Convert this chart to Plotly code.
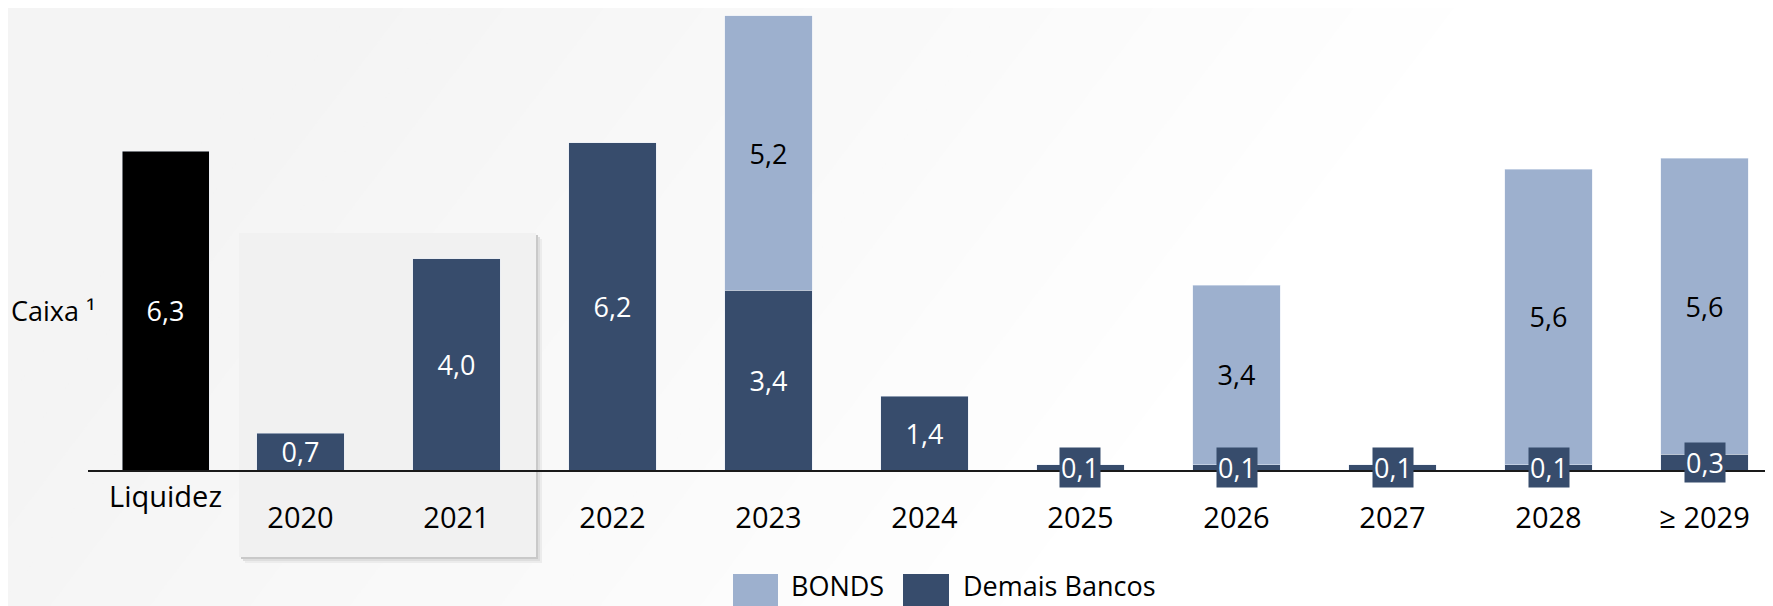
import plotly.graph_objects as go

# dados (bilhões)
categories = ["2020", "2021", "2022", "2023", "2024", "2025", "2026", "2027", "2028", "≥ 2029"]
demais_bancos = [0.7, 4.0, 6.2, 3.4, 1.4, 0.1, 0.1, 0.1, 0.1, 0.3]
bonds = [None, None, None, 5.2, None, None, 3.4, None, 5.6, 5.6]
liquidez_label = "Liquidez"
liquidez = 6.3

DARK = "#374c6c"
LIGHT = "#9db0ce"
FONT = "Open Sans"

W, H = 1773, 606
OFF = 8          # the page body adds an 8px margin
BOTTOM = 470     # baseline, px from top of the page
FW, FH = W - OFF, H - OFF


def px(x):
    return (x - OFF) / FW


def py(y):
    return (BOTTOM - y) / (BOTTOM - OFF)


def fmt(v):
    return f"{v:.1f}".replace(".", ",")


fig = go.Figure()

fig.add_trace(go.Bar(
    x=[liquidez_label], y=[liquidez], xaxis="x2", yaxis="y2",
    marker_color="#000000", width=0.558,
    text=[fmt(liquidez)], textposition="inside", insidetextanchor="middle",
    textfont=dict(color="white", size=27), showlegend=False,
))

fig.add_trace(go.Bar(
    x=categories, y=demais_bancos, name="Demais Bancos",
    marker_color=DARK, width=0.558,
    text=[fmt(v) if v >= 0.5 else "" for v in demais_bancos],
    textposition="inside", insidetextanchor="middle", textangle=0,
    textfont=dict(color="white", size=27), showlegend=False,
))

fig.add_trace(go.Bar(
    x=categories, y=bonds, name="BONDS",
    marker_color=LIGHT, width=0.558,
    text=[fmt(v) if v else "" for v in bonds],
    textposition="inside", insidetextanchor="middle", textangle=0,
    textfont=dict(color="black", size=27), showlegend=False,
))

# small values: labels in a dark box centred on the bar
annotations = []
for i, v in enumerate(demais_bancos):
    if v < 0.5:
        annotations.append(dict(
            x=i, y=v / 2, xref="x", yref="y", text=fmt(v), showarrow=False,
            xanchor="center", yanchor="middle",
            bgcolor=DARK, borderpad=1, font=dict(color="white", size=27, family=FONT),
        ))

annotations.append(dict(
    x=px(97), y=liquidez / 2, xref="paper", yref="y2", xanchor="right", yanchor="middle",
    text="Caixa ¹", showarrow=False, font=dict(color="black", size=27, family=FONT),
))

# background gradient (light grey top-left -> white)
shapes = []
n = 24
for i in range(1, n + 1):
    left = -200 + 1200 * i / n
    c = int(244 + (255 - 244) * i / n)
    shapes.append(dict(
        type="path", xref="paper", yref="paper", layer="below", line_width=0,
        fillcolor=f"rgb({c},{c},{c})",
        path=f"M {px(left)},{py(H)} L {px(3000)},{py(H)} L {px(3000)},{py(0)} L {px(left + 460)},{py(0)} Z",
    ))

# highlighted box behind 2020 / 2021 with shadow
bx0, by0, bx1, by1 = 239, 233, 536, 557
for off, col in [(6, "#ececec"), (4, "#dedede"), (2, "#c9c9c9")]:
    shapes.append(dict(type="rect", xref="paper", yref="paper", layer="below", line_width=0,
                       fillcolor=col, x0=px(bx0 + off), x1=px(bx1 + off), y0=py(by0 + off), y1=py(by1 + off)))
shapes.append(dict(type="rect", xref="paper", yref="paper", layer="below", line_width=0,
                   fillcolor="#f1f1f1", x0=px(bx0), x1=px(bx1), y0=py(by0), y1=py(by1)))

# legend drawn by hand (bigger swatches than plotly's)
for name, col, x0, x1, tx in [("BONDS", LIGHT, 733, 778, 789), ("Demais Bancos", DARK, 903, 949, 961)]:
    shapes.append(dict(type="rect", xref="paper", yref="paper", line_width=0, fillcolor=col,
                       x0=px(x0), x1=px(x1), y0=py(574), y1=py(612)))
    annotations.append(dict(x=px(tx), y=py(585), xref="paper", yref="paper",
                            xanchor="left", yanchor="middle",
                            text=name, showarrow=False, font=dict(color="black", size=27, family=FONT)))

fig.update_layout(
    width=FW, height=FH,
    margin=dict(l=0, r=0, t=0, b=FH - (BOTTOM - OFF), pad=0),
    paper_bgcolor="#f4f4f4", plot_bgcolor="rgba(0,0,0,0)",
    font=dict(family=FONT, color="black"),
    barmode="stack", showlegend=False,
    uniformtext=dict(minsize=27, mode="show"),
    shapes=shapes, annotations=annotations,
    xaxis=dict(type="category", domain=[px(222), 1], range=[-0.503, 9.439], anchor="y",
               showline=True, linecolor="#1a1a1a", linewidth=2, showgrid=False,
               ticks="outside", ticklen=21, tickcolor="rgba(0,0,0,0)",
               tickfont=dict(size=29, color="black")),
    yaxis=dict(domain=[0, 1], range=[0, (BOTTOM - OFF) / 52.8], visible=False, anchor="x"),
    xaxis2=dict(type="category", domain=[px(88), px(222)], range=[-0.497, 0.362], anchor="y2",
                showline=True, linecolor="#1a1a1a", linewidth=2, showgrid=False,
                ticks="", ticklabelstandoff=0,
                tickfont=dict(size=29, color="black")),
    yaxis2=dict(domain=[0, 1], range=[0, (BOTTOM - OFF) / 50.6], visible=False, anchor="x2"),
)

fig.write_html("out.html")
